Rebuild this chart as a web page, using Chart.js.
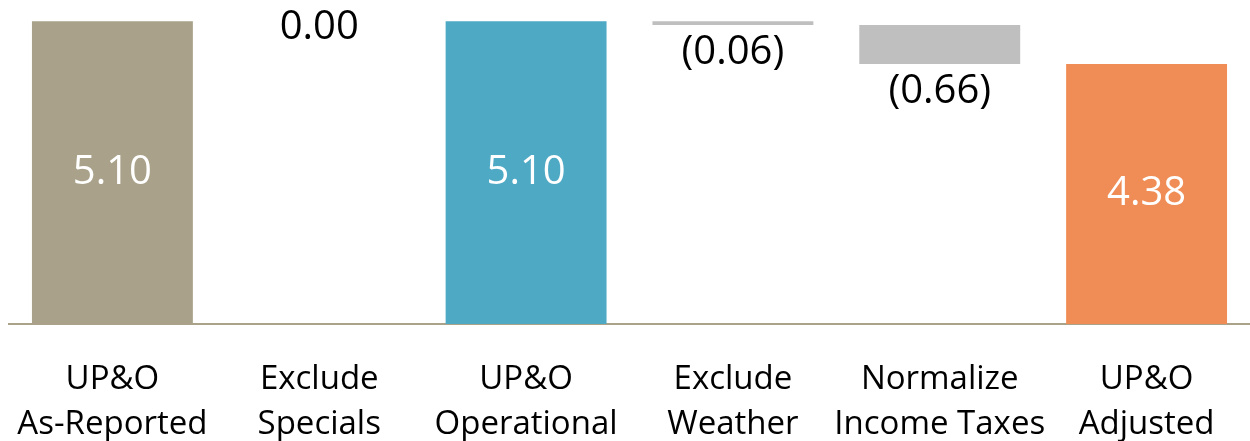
<!DOCTYPE html>
<html>
<head>
<meta charset="utf-8">
<script src="https://cdn.jsdelivr.net/npm/chart.js@4.4.1/dist/chart.umd.min.js"></script>
<style>
  html, body { margin: 0; padding: 0; background: #ffffff; }
  #wrap { width: 1250px; height: 441px; }
</style>
</head>
<body>
<div id="wrap"><canvas id="bridgeChart"></canvas></div>
<script>
// Catégories (deux lignes chacune)
const categories = [
    ['UP&O', 'As-Reported'],
    ['Exclude', 'Specials'],
    ['UP&O', 'Operational'],
    ['Exclude', 'Weather'],
    ['Normalize', 'Income Taxes'],
    ['UP&O', 'Adjusted']
];

// Valeurs du pont : totaux et variations
const startTotal = 5.10;
const steps = [0.00, 0.00, 0.00, -0.06, -0.66, 0.00];
const isTotal = [true, false, true, false, false, true];
const totals = [5.10, null, 5.10, null, null, 4.38];

// Étiquettes affichées
const valueLabels = ['5.10', '0.00', '5.10', '(0.06)', '(0.66)', '4.38'];

// Couleurs
const barColors = ['#a9a189', '#bfbfbf', '#4ea9c5', '#bfbfbf', '#bfbfbf', '#f08d56'];
const labelColors = ['#ffffff', '#000000', '#ffffff', '#000000', '#000000', '#ffffff'];
// 'inside' = centré dans la barre, 'below' = sous la barre, 'onTop' = sur la barre
const labelPlacement = ['inside', 'onTop', 'inside', 'below', 'below', 'inside'];

// Construire les barres flottantes [bas, haut]
let running = startTotal;
const floating = categories.map((_, i) => {
    if (isTotal[i]) {
        running = totals[i];
        return [0, totals[i]];
    }
    const from = running;
    running = +(running + steps[i]).toFixed(2);
    return [Math.min(from, running), Math.max(from, running)];
});

// Plugin pour les étiquettes de valeur
const valueLabelPlugin = {
    id: 'valueLabels',
    afterDatasetsDraw(chart) {
        const ctx = chart.ctx;
        const meta = chart.getDatasetMeta(0);
        ctx.save();
        ctx.font = "40px 'Open Sans', sans-serif";
        ctx.textAlign = 'center';
        ctx.textBaseline = 'middle';
        meta.data.forEach((bar, i) => {
            const top = Math.min(bar.y, bar.base);
            const bottom = Math.max(bar.y, bar.base);
            let y;
            if (labelPlacement[i] === 'inside') {
                y = (top + bottom) / 2;
            } else if (labelPlacement[i] === 'below') {
                y = bottom + 28;
            } else {
                y = top + 6;
            }
            ctx.fillStyle = labelColors[i];
            ctx.fillText(valueLabels[i], bar.x, y);
        });
        ctx.restore();
    }
};

Chart.defaults.font.family = "'Open Sans', sans-serif";
Chart.defaults.color = '#000000';

new Chart(document.getElementById('bridgeChart'), {
    type: 'bar',
    data: {
        labels: categories,
        datasets: [{
            data: floating,
            backgroundColor: barColors,
            borderWidth: 0,
            categoryPercentage: 1.0,
            barPercentage: 0.778
        }]
    },
    options: {
        responsive: true,
        maintainAspectRatio: false,
        animation: false,
        layout: {
            padding: { left: 9, right: -3, top: 0, bottom: 0 }
        },
        scales: {
            x: {
                grid: { display: false, drawTicks: false },
                border: { display: true, color: '#aaa38a', width: 2 },
                ticks: {
                    font: { size: 33, lineHeight: 1.36 },
                    color: '#000000',
                    padding: 33,
                    maxRotation: 0,
                    autoSkip: false
                },
                afterFit(scale) {
                    // hauteur fixe de l'axe, sans marge ajoutée pour les libellés
                    scale.height = 117;
                    scale.paddingLeft = 0;
                    scale.paddingRight = 0;
                }
            },
            y: {
                display: false,
                min: 0,
                max: 5.46
            }
        },
        plugins: {
            legend: { display: false },
            tooltip: { enabled: false }
        }
    },
    plugins: [valueLabelPlugin]
});
</script>
</body>
</html>
